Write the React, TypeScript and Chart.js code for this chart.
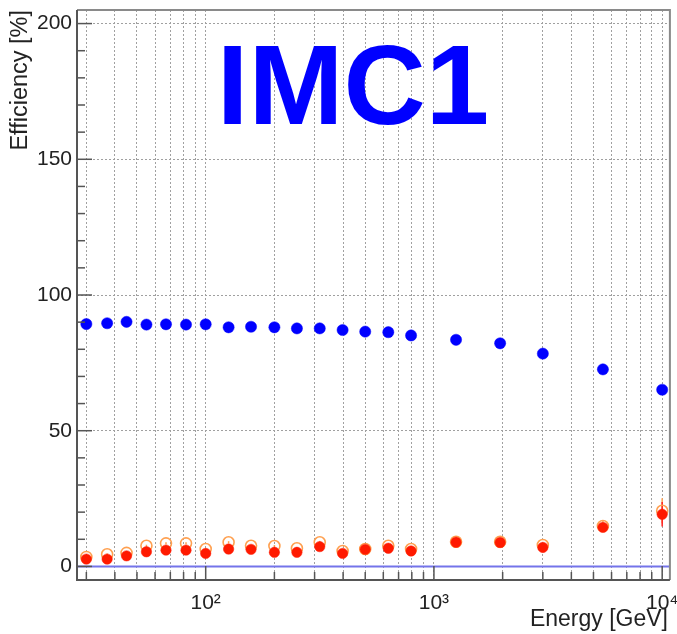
import React, { useEffect, useRef } from 'react';
import { Chart, registerables } from 'chart.js';

Chart.register(...registerables);

// ---- data ----
const energies = [30, 37, 45, 55, 67, 82, 100, 126, 158, 200, 251, 316, 398, 500, 631, 794, 1250, 1950, 3000, 5500, 10000];
const effBlue = [89.3, 89.6, 90.1, 89.1, 89.2, 89.1, 89.2, 88.1, 88.3, 88.1, 87.7, 87.7, 87.1, 86.5, 86.3, 85.1, 83.5, 82.2, 78.4, 72.6, 65.1];
const effRed = [2.7, 2.7, 3.9, 5.4, 6.0, 6.0, 4.8, 6.4, 6.3, 5.2, 5.2, 7.3, 4.8, 6.3, 6.7, 5.7, 8.9, 8.8, 7.0, 14.4, 19.2];
const effOrange = [3.5, 4.5, 5.0, 7.6, 8.5, 8.5, 6.4, 8.9, 7.6, 7.5, 6.7, 8.9, 5.7, 6.4, 7.6, 6.4, 9.1, 9.1, 7.9, 14.9, 20.5];
const errRed = [0.3, 0.3, 0.4, 0.4, 0.4, 0.4, 0.4, 0.4, 0.4, 0.4, 0.4, 0.5, 0.5, 0.5, 0.6, 0.6, 0.7, 0.9, 1.0, 1.6, 4.5];
const errOrange = [0.3, 0.3, 0.4, 0.4, 0.4, 0.4, 0.4, 0.4, 0.4, 0.4, 0.4, 0.5, 0.5, 0.5, 0.6, 0.6, 0.7, 0.9, 1.0, 1.7, 4.6];

const xMin = 27.3;
const xMax = 10810;
const yMin = -5;
const yMax = 205;

const xGridValues = [30, 40, 50, 60, 70, 80, 90, 100, 200, 300, 400, 500, 600, 700, 800, 900, 1000, 2000, 3000, 4000, 5000, 6000, 7000, 8000, 9000, 10000];
const xLabelValues = [100, 1000, 10000];
const xLabelText = ['10\u00B2', '10\u00B3', '10\u2074'];
const yTickValues = [0, 10, 20, 30, 40, 50, 60, 70, 80, 90, 100, 110, 120, 130, 140, 150, 160, 170, 180, 190, 200];
const yLabelValues = [0, 50, 100, 150, 200];

const titleText = 'IMC1';
const xTitle = 'Energy [GeV]';
const yTitle = 'Efficiency [%]';

const FONT = "'Liberation Sans', Arial, Helvetica, sans-serif";

const errorBarPlugin = {
  id: 'errorBars',
  beforeDatasetsDraw(chart: any) {
    const { ctx, scales } = chart;
    const xs = scales.x;
    const ys = scales.y;
    const draw = (vals: number[], errs: number[], color: string) => {
      ctx.save();
      ctx.strokeStyle = color;
      ctx.lineWidth = 1.5;
      energies.forEach((e, i) => {
        const px = xs.getPixelForValue(e);
        ctx.beginPath();
        ctx.moveTo(px, ys.getPixelForValue(vals[i] - errs[i]));
        ctx.lineTo(px, ys.getPixelForValue(vals[i] + errs[i]));
        ctx.stroke();
      });
      ctx.restore();
    };
    draw(effOrange, errOrange, '#ffa050');
    draw(effRed, errRed, '#ff2020');
  },
};

const framePlugin = {
  id: 'rootFrame',
  afterDraw(chart: any) {
    const { ctx, chartArea, scales } = chart;
    const { left, right, top, bottom } = chartArea;
    const xs = scales.x;
    const ys = scales.y;
    ctx.save();
    // inward ticks
    ctx.strokeStyle = '#555';
    ctx.lineWidth = 1.5;
    yTickValues.forEach((v) => {
      const py = ys.getPixelForValue(v);
      const len = v % 50 === 0 ? 15 : 8;
      ctx.beginPath();
      ctx.moveTo(left, py);
      ctx.lineTo(left + len, py);
      ctx.stroke();
    });
    xGridValues.forEach((v) => {
      const px = xs.getPixelForValue(v);
      const len = xLabelValues.includes(v) ? 14 : 8;
      ctx.beginPath();
      ctx.moveTo(px, bottom);
      ctx.lineTo(px, bottom - len);
      ctx.stroke();
    });
    // frame
    ctx.strokeStyle = '#8a8a8a';
    ctx.lineWidth = 2;
    ctx.beginPath();
    ctx.moveTo(left, top);
    ctx.lineTo(right, top);
    ctx.lineTo(right, bottom);
    ctx.stroke();
    ctx.strokeStyle = '#555';
    ctx.beginPath();
    ctx.moveTo(left, top);
    ctx.lineTo(left, bottom);
    ctx.lineTo(right, bottom);
    ctx.stroke();

    // axis titles
    ctx.fillStyle = '#222';
    ctx.font = `23px ${FONT}`;
    ctx.textAlign = 'right';
    ctx.textBaseline = 'alphabetic';
    ctx.fillText(xTitle, 668, 626);
    ctx.save();
    ctx.translate(27, 10);
    ctx.rotate(-Math.PI / 2);
    ctx.textAlign = 'right';
    ctx.font = `23.5px ${FONT}`;
    ctx.fillText(yTitle, 0, 0);
    ctx.restore();

    // big title
    ctx.fillStyle = '#0000ff';
    ctx.font = `bold 114px ${FONT}`;
    ctx.textAlign = 'center';
    ctx.textBaseline = 'alphabetic';
    ctx.fillText(titleText, 353, 124);
    ctx.restore();
  },
};

export default function App() {
  const ref = useRef<HTMLCanvasElement | null>(null);
  useEffect(() => {
    if (!ref.current) return;
    const pts = (vals: number[]) => energies.map((e, i) => ({ x: e, y: vals[i] }));
    const chart = new Chart(ref.current, {
      type: 'scatter',
      data: {
        datasets: [
          {
            label: 'red',
            data: pts(effRed),
            pointRadius: 5.2,
            pointBackgroundColor: '#ff1a00',
            pointBorderColor: '#ff1a00',
            pointBorderWidth: 0.5,
            order: 1,
          } as any,
          {
            label: 'orange',
            data: pts(effOrange),
            pointRadius: 5.5,
            pointBackgroundColor: 'rgba(0,0,0,0)',
            pointBorderColor: '#ffa050',
            pointBorderWidth: 1.6,
            order: 2,
          },
          {
            label: 'blue',
            data: pts(effBlue),
            pointRadius: 5.6,
            pointBackgroundColor: '#0000ff',
            pointBorderColor: '#0000ff',
            pointBorderWidth: 0.5,
            order: 1,
          },
          {
            type: 'line',
            label: 'zero',
            data: [{ x: xMin, y: 0 }, { x: xMax, y: 0 }],
            borderColor: '#7474ea',
            borderWidth: 2,
            pointRadius: 0,
            showLine: true,
            order: 3,
          } as any,
        ],
      },
      options: {
        responsive: false,
        animation: false,
        layout: { padding: { top: 10, right: 7, left: 0, bottom: 0 } },
        plugins: { legend: { display: false }, tooltip: { enabled: false } },
        scales: {
          x: {
            type: 'logarithmic',
            min: xMin,
            max: xMax,
            afterBuildTicks: (s: any) => {
              s.ticks = xGridValues.map((v) => ({ value: v }));
            },
            afterFit: (s: any) => {
              s.height = 54;
              s.paddingLeft = 0;
              s.paddingRight = 0;
            },
            ticks: {
              autoSkip: false,
              maxRotation: 0,
              minRotation: 0,
              padding: 11,
              color: '#222',
              font: { family: FONT, size: 21 },
              callback: (v: any) => {
                const i = xLabelValues.indexOf(Number(v));
                return i >= 0 ? xLabelText[i] : '';
              },
            },
            grid: { color: '#a0a0a0', lineWidth: 1, drawTicks: false },
            border: { display: false, dash: [2, 2] },
          },
          y: {
            type: 'linear',
            min: yMin,
            max: yMax,
            afterBuildTicks: (s: any) => {
              s.ticks = yTickValues.map((v) => ({ value: v }));
            },
            afterFit: (s: any) => {
              s.width = 77;
              s.paddingTop = 0;
              s.paddingBottom = 0;
            },
            ticks: {
              autoSkip: false,
              padding: 5,
              color: '#222',
              font: { family: FONT, size: 21 },
              callback: (v: any) => (yLabelValues.includes(Number(v)) ? String(v) : ''),
            },
            grid: {
              color: (c: any) => (c.tick && yLabelValues.includes(c.tick.value) && c.tick.value !== 0 ? '#a0a0a0' : 'rgba(0,0,0,0)'),
              lineWidth: 1,
              drawTicks: false,
            },
            border: { display: false, dash: [2, 2] },
          },
        },
      } as any,
      plugins: [errorBarPlugin, framePlugin],
    });
    return () => chart.destroy();
  }, []);
  return (
    <div style={{ position: 'fixed', left: 0, top: 0, background: '#fff' }}>
      <canvas ref={ref} width={677} height={634} style={{ display: 'block' }} />
    </div>
  );
}
